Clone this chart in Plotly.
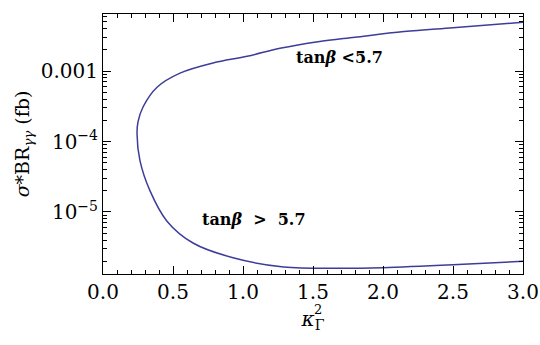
import plotly.graph_objects as go

# contour tan(beta) = 5.7, traced from the upper-right end round to the lower-right end
kappa_sq = [3.0, 2.5, 2.15, 1.8, 1.536, 1.264, 1.03, 0.786, 0.55, 0.386, 0.286, 0.25, 0.243,
            0.264, 0.336, 0.457, 0.643, 0.929, 1.29, 1.69, 2.0, 2.5, 3.0]
log_sigma_br = [-2.307, -2.385, -2.44, -2.52, -2.583, -2.677, -2.79, -2.886, -3.03, -3.23, -3.51, -3.72, -3.89,
                -4.27, -4.70, -5.13, -5.44, -5.65, -5.78, -5.80, -5.79, -5.75, -5.70]
sigma_br = [10 ** v for v in log_sigma_br]

y_tickvals = [1e-3, 1e-4, 1e-5]
y_ticktext = ["0.001", "10<sup>−4</sup>", "10<sup>−5</sup>"]
x_tickvals = [0.0, 0.5, 1.0, 1.5, 2.0, 2.5, 3.0]

FONT = "DejaVu Serif"
LINE_COLOR = "#3d3d99"
TICK_FONT = {"family": FONT, "size": 20, "color": "black"}

fig = go.Figure()
fig.add_trace(
    go.Scatter(
        x=kappa_sq,
        y=sigma_br,
        mode="lines",
        line={"color": LINE_COLOR, "width": 1.5, "shape": "spline", "smoothing": 1.0},
        showlegend=False,
        hoverinfo="skip",
    )
)

fig.add_annotation(
    x=1.69, y=-2.81, xref="x", yref="y",
    text="<b>tan<i>β</i> <5.7</b>",
    showarrow=False,
    font={"family": FONT, "size": 16, "color": "black"},
    bgcolor="white",
    borderpad=0,
)
fig.add_annotation(
    x=1.08, y=-5.11, xref="x", yref="y",
    text="<b>tan<i>β</i>  >  5.7</b>",
    showarrow=False,
    font={"family": FONT, "size": 16, "color": "black"},
)
# superscript of the x title, stacked over the subscript
fig.add_annotation(
    x=0.513, y=-0.171, xref="paper", yref="paper",
    text="2",
    showarrow=False,
    font={"family": FONT, "size": 13, "color": "black"},
    borderpad=0,
)

fig.update_layout(
    width=540,
    height=345,
    margin={"l": 103, "r": 17, "t": 14, "b": 71, "autoexpand": False},
    plot_bgcolor="white",
    paper_bgcolor="white",
    font={"family": FONT, "size": 20, "color": "black"},
)
fig.update_xaxes(
    range=[0, 3.0],
    tickvals=x_tickvals,
    ticktext=[f"{v:.1f}" for v in x_tickvals],
    tickfont=TICK_FONT,
    ticklabeloverflow="allow",
    ticks="inside",
    ticklen=8,
    tickwidth=1,
    tickcolor="black",
    minor={"dtick": 0.1, "ticks": "inside", "ticklen": 4, "tickcolor": "black"},
    showline=True,
    linecolor="black",
    linewidth=1,
    mirror="ticks",
    showgrid=False,
    zeroline=False,
    automargin=False,
    title={"text": "<i>κ</i><sub>Γ</sub>",
           "font": {"family": FONT, "size": 20, "color": "black"}, "standoff": 8},
)
fig.update_yaxes(
    type="log",
    range=[-5.88, -2.19],
    tickvals=y_tickvals,
    ticktext=y_ticktext,
    tickfont=TICK_FONT,
    ticks="inside",
    ticklen=8,
    tickwidth=1,
    tickcolor="black",
    minor={"dtick": "D1", "ticks": "inside", "ticklen": 4, "tickcolor": "black"},
    showline=True,
    linecolor="black",
    linewidth=1,
    mirror="ticks",
    showgrid=False,
    zeroline=False,
    automargin=False,
    title={"text": "<i>σ</i>*BR<sub><i>γγ</i></sub> (fb)",
           "font": {"family": FONT, "size": 19, "color": "black"}, "standoff": 6},
)

# drop the default body margin so the 540x345 figure fills the window exactly
fig.write_html(
    "out.html",
    config={"displayModeBar": False},
    post_script="document.body.style.margin = '0';",
)
